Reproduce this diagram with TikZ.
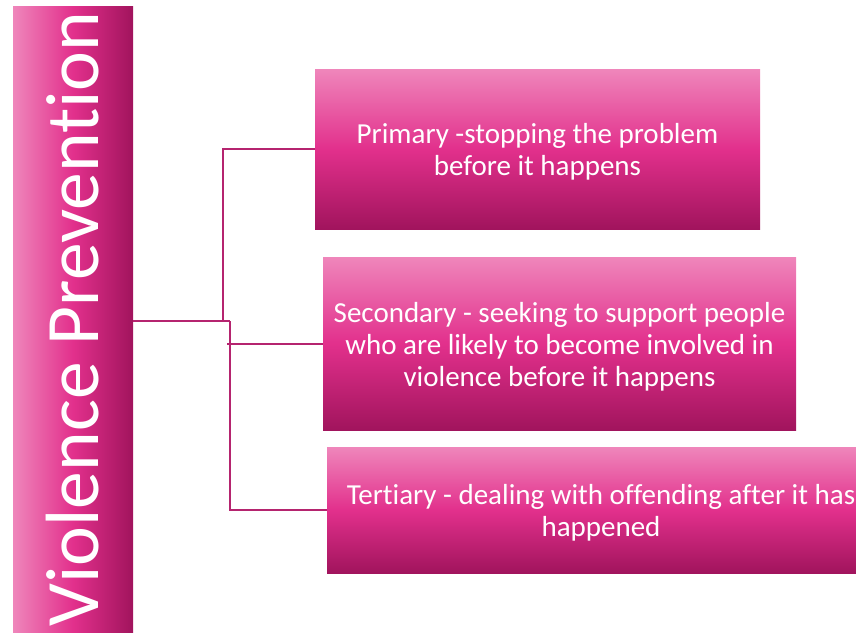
\documentclass[tikz,border=0pt]{standalone}
\usepackage{fontspec}
\setmainfont{Carlito}[Ligatures={NoCommon,NoContextual}]
\definecolor{pkL}{HTML}{EF86BB}
\definecolor{pkM}{HTML}{E2308C}
\definecolor{pkD}{HTML}{A1145D}
\definecolor{lineC}{HTML}{B5246F}
\tikzset{
  box/.style={draw=none, inner sep=0pt, outer sep=0pt,
    top color=pkL, bottom color=pkD, middle color=pkM},
  boxtext/.style={inner sep=0pt, text=white, align=center, yshift=-3pt,
    font=\fontsize{29}{32}\selectfont},
  conn/.style={draw=lineC, line width=2pt}
}
\begin{document}
\begin{tikzpicture}[x=1pt,y=-1pt]
\useasboundingbox (0,0) rectangle (856,632);
\clip (0,0) rectangle (856,632);
\node[draw=none, inner sep=0pt, outer sep=0pt, minimum width=120pt, minimum height=634pt,
      left color=pkL, right color=pkD, middle color=pkM] (vp) at (73,323) {};
\node[rotate=90, anchor=base, text=white, inner sep=0pt,
      font=\fontsize{75.5}{80}\selectfont] (vpt) at (98,319) {Violence Prevention};
\node[box, minimum width=445pt, minimum height=160pt] (p) at (537.5,149) {};
\node[boxtext] (ptx) at (p) {Primary -stopping the problem\\before it happens};
\node[box, minimum width=473pt, minimum height=173pt] (s) at (559.5,343.5) {};
\node[boxtext] (stx) at (s) {Secondary - seeking to support people\\who are likely to become involved in\\violence before it happens};
\node[box, minimum width=548pt, minimum height=126pt] (t) at (601,510) {};
\node[boxtext] (ttx) at (t) {Tertiary - dealing with offending after it has\\happened};
\coordinate (j1) at (223,321);
\coordinate (j2) at (230,321);
\draw[conn] (vp.east |- j2) -- (j2);
\draw[conn] (j1) |- (p.west);
\draw[conn] (j2) |- (t.west);
\draw[conn] ([xshift=-3pt]j2 |- s.west) -- (s.west);
\end{tikzpicture}
\end{document}
